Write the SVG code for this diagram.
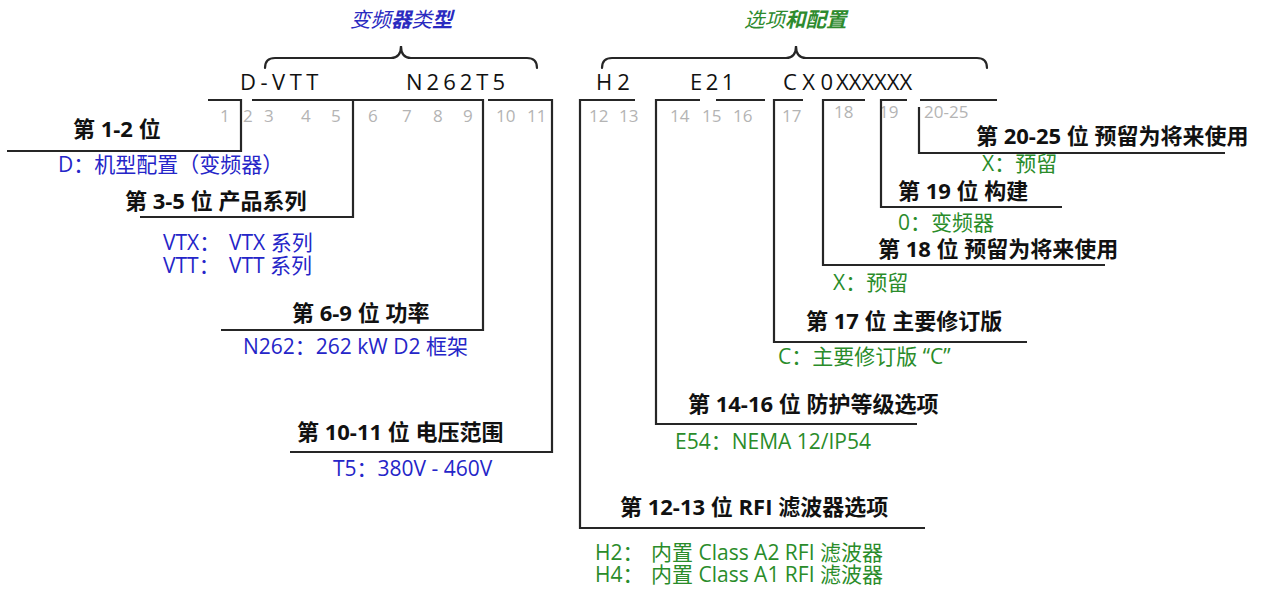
<svg xmlns="http://www.w3.org/2000/svg" width="1261" height="589" viewBox="0 0 1261 589">
<style>
.ln{fill:none;stroke:#262626;stroke-width:2.2;stroke-linejoin:miter}
.br{fill:none;stroke:#262626;stroke-width:2.2;stroke-linecap:round}
.hd{font-family:"Open Sans","Noto Sans CJK SC",sans-serif;font-weight:700;font-size:22px;fill:#111}
.bl{font-family:"Open Sans","Noto Sans CJK SC",sans-serif;font-size:21px;fill:#2525c8}
.gr{font-family:"Open Sans","Noto Sans CJK SC",sans-serif;font-size:21px;fill:#2a8c2a}
.dg{font-family:"Open Sans","Noto Sans CJK SC",sans-serif;font-size:17px;fill:#b4b4b4}
.cd{font-family:"Open Sans","Noto Sans CJK SC",sans-serif;font-size:22px;fill:#111}
.tt{font-family:"Noto Sans CJK SC",sans-serif;font-size:20.5px;font-style:italic}
</style>
<rect width="1261" height="589" fill="#ffffff"/>
<g id="titles">
<text class="tt" x="350" y="27" fill="#2a2ac0">变频<tspan font-weight="700">器</tspan>类<tspan font-weight="700">型</tspan></text>
<text class="tt" x="744" y="27" fill="#2e8b2e">选项<tspan font-weight="700">和配置</tspan></text>
<path class="br" d="M265,68 Q265,58 275,58 L391,58 Q401,58 401,46 Q401,58 411,58 L527,58 Q537,58 537,68"/>
<path class="br" d="M602,68 Q602,58 612,58 L786,58 Q796,58 796,46 Q796,58 806,58 L977,58 Q987,58 987,68"/>
</g>
<g id="code">
<text class="cd" x="240" y="90" letter-spacing="4.5">D-VTT</text>
<text class="cd" x="406" y="90" letter-spacing="4">N262T5</text>
<text class="cd" x="596" y="90" letter-spacing="5">H2</text>
<text class="cd" x="690" y="90" letter-spacing="3.5">E21</text>
<text class="cd" x="783" y="90" letter-spacing="5.5">CX0</text>
<text class="cd" x="836" y="90" letter-spacing="0">XXXXXX</text>
</g>
<g id="digits">
<text class="dg" x="220" y="122">1</text>
<text class="dg" x="243" y="122">2</text>
<text class="dg" x="264" y="122">3</text>
<text class="dg" x="301" y="122">4</text>
<text class="dg" x="331" y="122">5</text>
<text class="dg" x="368" y="122">6</text>
<text class="dg" x="402" y="122">7</text>
<text class="dg" x="433" y="122">8</text>
<text class="dg" x="463" y="122">9</text>
<text class="dg" x="496" y="122">10</text>
<text class="dg" x="527" y="122">11</text>
<text class="dg" x="589" y="122">12</text>
<text class="dg" x="619" y="122">13</text>
<text class="dg" x="670" y="122">14</text>
<text class="dg" x="702" y="122">15</text>
<text class="dg" x="733" y="122">16</text>
<text class="dg" x="782" y="122">17</text>
<text class="dg" x="834" y="118">18</text>
<text class="dg" x="879" y="118">19</text>
<text class="dg" x="924" y="118">20-25</text>
</g>
<g id="connectors">
<path class="ln" d="M208,100 H241 V151 H7"/>
<path class="ln" d="M252,100 H483 V330 H221"/>
<path class="ln" d="M353,100 V217 H140"/>
<path class="ln" d="M488,100 H552 V452 H290"/>
<path class="ln" d="M635,100 H580 V528 H925"/>
<path class="ln" d="M700,100 H656 V424 H917"/>
<path class="ln" d="M716,100 H765"/>
<path class="ln" d="M803,100 H774 V342 H1027"/>
<path class="ln" d="M865,100 H823 V265 H1105"/>
<path class="ln" d="M907,100 H881 V207 H1062"/>
<path class="ln" d="M920,100 H997"/>
<path class="ln" d="M919,107 V153 H1225"/>
</g>
<g id="pos-1-2">
<text class="hd" x="73" y="137">第 1-2 位</text>
<text class="bl" x="58" y="172">D：机型配置（变频器）</text>
</g>
<g id="pos-3-5">
<text class="hd" x="125" y="209">第 3-5 位 产品系列</text>
<text class="bl" x="163" y="250">VTX：</text>
<text class="bl" x="229" y="250">VTX 系列</text>
<text class="bl" x="163" y="273">VTT：</text>
<text class="bl" x="229" y="273">VTT 系列</text>
</g>
<g id="pos-6-9">
<text class="hd" x="292" y="321">第 6-9 位 功率</text>
<text class="bl" x="243" y="354">N262：262 kW D2 框架</text>
</g>
<g id="pos-10-11">
<text class="hd" x="297" y="440">第 10-11 位 电压范围</text>
<text class="bl" x="333" y="476">T5：380V - 460V</text>
</g>
<g id="pos-12-13">
<text class="hd" x="620" y="515">第 12-13 位 RFI 滤波器选项</text>
<text class="gr" x="595" y="560">H2：</text>
<text class="gr" x="651" y="560">内置 Class A2 RFI 滤波器</text>
<text class="gr" x="595" y="582">H4：</text>
<text class="gr" x="651" y="582">内置 Class A1 RFI 滤波器</text>
</g>
<g id="pos-14-16">
<text class="hd" x="688" y="412">第 14-16 位 防护等级选项</text>
<text class="gr" x="675" y="449">E54：NEMA 12/IP54</text>
</g>
<g id="pos-17">
<text class="hd" x="806" y="329">第 17 位 主要修订版</text>
<text class="gr" x="778" y="364">C：主要修订版 “C”</text>
</g>
<g id="pos-18">
<text class="hd" x="878" y="257">第 18 位 预留为将来使用</text>
<text class="gr" x="833" y="290">X：预留</text>
</g>
<g id="pos-19">
<text class="hd" x="898" y="199">第 19 位 构建</text>
<text class="gr" x="898" y="230">0：变频器</text>
</g>
<g id="pos-20-25">
<text class="hd" x="976" y="144">第 20-25 位 预留为将来使用</text>
<text class="gr" x="982" y="171">X：预留</text>
</g>
</svg>
